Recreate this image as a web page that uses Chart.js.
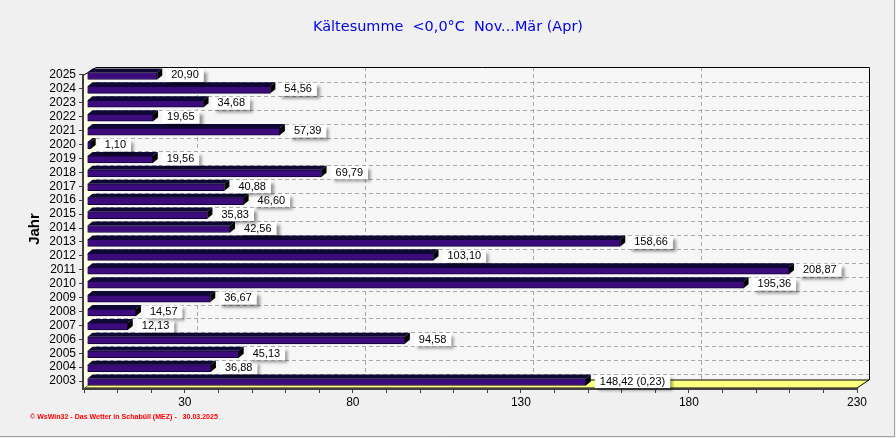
<!DOCTYPE html>
<html>
<head>
<meta charset="utf-8">
<script src="https://cdn.jsdelivr.net/npm/chart.js@4.4.1/dist/chart.umd.min.js"></script>
<style>
  html, body { margin: 0; padding: 0; background: #f0f0f0; }
  canvas { display: block; }
</style>
</head>
<body>
<canvas id="kaelte" width="896" height="438"></canvas>
<script>
// Kältesumme je Winter (Nov...Mär), Jahr des Winterendes
const years = ['2003', '2004', '2005', '2006', '2007', '2008', '2009', '2010', '2011', '2012', '2013', '2014',
               '2015', '2016', '2017', '2018', '2019', '2020', '2021', '2022', '2023', '2024', '2025'];
const values = [148.42, 36.88, 45.13, 94.58, 12.13, 14.57, 36.67, 195.36, 208.87, 103.10, 158.66, 42.56,
                35.83, 46.60, 40.88, 69.79, 19.56, 1.10, 57.39, 19.65, 34.68, 54.56, 20.90];
// Zusatz hinter dem Wert (April-Anteil)
const notes = ['(0,23)', '', '', '', '', '', '', '', '', '', '', '',
               '', '', '', '', '', '', '', '', '', '', ''];
const xTickLabels = [30, 80, 130, 180, 230];

const titleText = 'Kältesumme  <0,0°C  Nov...Mär (Apr)';
const footerText = '© WsWin32 - Das Wetter in Schabüll (MEZ) -   30.03.2025';

const DX = 12, DY = 8;       // Tiefe der Wände
const BDX = 5, BDY = 4;      // Tiefe der Balken
const SHIFT_X = 3, SHIFT_Y = 1;

function fmt(v) {
    return v.toFixed(2).replace('.', ',');
}

function fitFont(ctx, text, weight, family, width) {
    ctx.font = weight + ' 20px ' + family;
    const w = ctx.measureText(text).width;
    return weight + ' ' + (20 * width / w).toFixed(2) + 'px ' + family;
}

const frame3d = {
    id: 'frame3d',
    beforeDraw(chart) {
        const ctx = chart.ctx;
        const a = chart.chartArea;
        const xs = chart.scales.x, ys = chart.scales.y;
        ctx.save();
        ctx.fillStyle = '#f0f0f0';
        ctx.fillRect(0, 0, chart.width, chart.height);
        ctx.strokeStyle = '#a0a0a0';
        ctx.lineWidth = 1;
        ctx.beginPath();
        ctx.moveTo(chart.width - 1.5, 0);
        ctx.lineTo(chart.width - 1.5, chart.height - 1.5);
        ctx.lineTo(0, chart.height - 1.5);
        ctx.stroke();

        const top = a.top - 1, back = a.bottom - DY;
        // Rückwand
        ctx.fillStyle = '#f6f6f6';
        ctx.fillRect(a.left + DX, top, a.right - a.left, back - top);

        // Gitter
        ctx.strokeStyle = '#a8a8a8';
        ctx.setLineDash([4, 3]);
        ctx.beginPath();
        for (let i = 0; i < years.length - 1; i++) {
            const y = Math.round((ys.getPixelForValue(i) + ys.getPixelForValue(i + 1)) / 2) + 0.5;
            ctx.moveTo(a.left + DX, y);
            ctx.lineTo(a.right + DX, y);
        }
        xTickLabels.slice(0, -1).forEach(v => {
            const x = Math.round(xs.getPixelForValue(v) + DX) + 0.5;
            ctx.moveTo(x, top);
            ctx.lineTo(x, back);
        });
        ctx.stroke();
        ctx.setLineDash([]);

        // Rahmen der Rückwand
        ctx.strokeStyle = '#000000';
        ctx.beginPath();
        ctx.moveTo(a.left + DX, top + 0.5);
        ctx.lineTo(a.right + DX + 0.5, top + 0.5);
        ctx.lineTo(a.right + DX + 0.5, back);
        ctx.stroke();

        // Boden
        ctx.fillStyle = '#ffff80';
        ctx.beginPath();
        ctx.moveTo(a.left, a.bottom);
        ctx.lineTo(a.right, a.bottom);
        ctx.lineTo(a.right + DX, back);
        ctx.lineTo(a.left + DX, back);
        ctx.closePath();
        ctx.fill();
        ctx.stroke();

        // linke Wand
        ctx.fillStyle = '#ffffe6';
        ctx.beginPath();
        ctx.moveTo(a.left, a.bottom);
        ctx.lineTo(a.left + DX, back);
        ctx.lineTo(a.left + DX, top);
        ctx.lineTo(a.left, top + DY);
        ctx.closePath();
        ctx.fill();
        ctx.beginPath();
        ctx.moveTo(a.left, top + DY);
        ctx.lineTo(a.left + DX, top + 0.5);
        ctx.stroke();

        // Achsenlinien
        ctx.strokeStyle = '#404040';
        ctx.lineWidth = 2;
        ctx.beginPath();
        ctx.moveTo(a.left - 1, top + DY);
        ctx.lineTo(a.left - 1, a.bottom + 1);
        ctx.lineTo(a.right, a.bottom + 1);
        ctx.stroke();
        ctx.restore();
    },
    beforeDatasetsDraw(chart) {
        chart.ctx.save();
        chart.ctx.translate(SHIFT_X, SHIFT_Y);
    },
    afterDatasetsDraw(chart) {
        const ctx = chart.ctx;
        const meta = chart.getDatasetMeta(0);
        meta.data.forEach(el => {
            const t = el.y - el.height / 2, b = el.y + el.height / 2;
            ctx.fillStyle = '#0e0834';
            ctx.beginPath();
            ctx.moveTo(el.base, t);
            ctx.lineTo(el.base + BDX, t - BDY);
            ctx.lineTo(el.x + BDX, t - BDY);
            ctx.lineTo(el.x, t);
            ctx.closePath();
            ctx.fill();
            ctx.fillStyle = '#000000';
            ctx.beginPath();
            ctx.moveTo(el.x, t);
            ctx.lineTo(el.x + BDX, t - BDY);
            ctx.lineTo(el.x + BDX, b - BDY);
            ctx.lineTo(el.x, b);
            ctx.closePath();
            ctx.fill();
        });
        // Wertefelder
        ctx.font = '11px "Liberation Sans", Arial, sans-serif';
        ctx.textBaseline = 'middle';
        meta.data.forEach((el, i) => {
            const txt = fmt(values[i]) + (notes[i] ? ' ' + notes[i] : '');
            const w = ctx.measureText(txt).width;
            const bx = el.x + 9, by = el.y - 7;
            ctx.save();
            ctx.shadowColor = 'rgba(0,0,0,0.4)';
            ctx.shadowBlur = 3;
            ctx.shadowOffsetX = 3;
            ctx.shadowOffsetY = 3;
            ctx.fillStyle = '#ffffff';
            ctx.fillRect(bx, by, w + 10, 13);
            ctx.restore();
            ctx.fillStyle = '#000000';
            ctx.fillText(txt, bx + 5, el.y - 0.5);
        });
        ctx.restore();
    },
    afterDraw(chart) {
        const ctx = chart.ctx;
        ctx.save();
        ctx.textBaseline = 'middle';
        ctx.textAlign = 'center';
        ctx.fillStyle = '#0000e6';
        ctx.font = fitFont(ctx, titleText, 'normal', '"DejaVu Sans", Verdana, sans-serif', 270);
        ctx.fillText(titleText, 448, 27);

        ctx.fillStyle = '#000000';
        ctx.font = 'bold 15px "Liberation Sans", Arial, sans-serif';
        ctx.translate(35, 229);
        ctx.rotate(-Math.PI / 2);
        ctx.fillText('Jahr', 0, 0);
        ctx.restore();

        ctx.save();
        ctx.textBaseline = 'middle';
        ctx.textAlign = 'left';
        ctx.fillStyle = '#ff0000';
        ctx.font = fitFont(ctx, footerText, 'bold', '"Liberation Sans", Arial, sans-serif', 188);
        ctx.fillText(footerText, 30, 417);
        ctx.restore();
    }
};

new Chart(document.getElementById('kaelte'), {
    type: 'bar',
    data: {
        labels: years,
        datasets: [{
            data: values,
            backgroundColor: '#3c0c7c',
            borderColor: '#12003a',
            borderWidth: 1,
            barThickness: 7
        }]
    },
    options: {
        indexAxis: 'y',
        responsive: false,
        animation: false,
        devicePixelRatio: 1,
        layout: { padding: { top: 68, right: 39, left: 0, bottom: 0 } },
        plugins: { legend: { display: false }, tooltip: { enabled: false }, title: { display: false } },
        scales: {
            x: {
                min: 0,
                max: 230,
                afterFit: s => { s.height = 50; },
                border: { display: false },
                grid: { drawOnChartArea: false, tickLength: 5, tickColor: '#404040' },
                ticks: {
                    stepSize: 10,
                    autoSkip: false,
                    maxRotation: 0,
                    padding: 2,
                    color: '#000000',
                    font: { family: '"Liberation Sans", Arial, sans-serif', size: 12 },
                    callback: v => xTickLabels.includes(v) ? String(v) : ''
                }
            },
            y: {
                reverse: true,
                afterFit: s => { s.width = 84; },
                border: { display: false },
                grid: { drawOnChartArea: false, offset: false, tickLength: 5, tickColor: '#404040' },
                ticks: {
                    autoSkip: false,
                    padding: 3,
                    color: '#000000',
                    font: { family: '"Liberation Sans", Arial, sans-serif', size: 12 }
                }
            }
        }
    },
    plugins: [frame3d]
});
</script>
</body>
</html>
